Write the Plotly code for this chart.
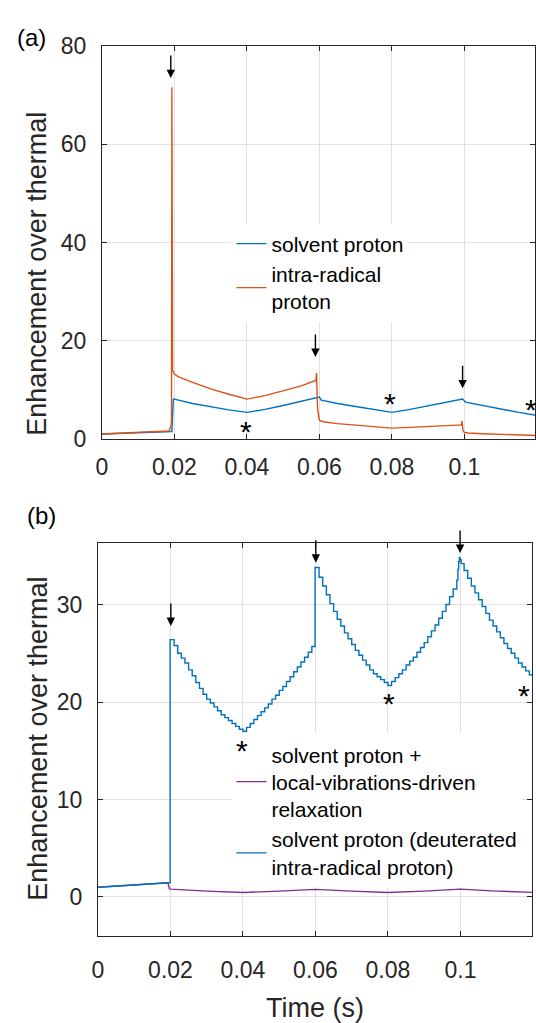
import plotly.graph_objects as go

# ---------------- Panel (a) data ----------------
t_a_solvent = [0, 0.01, 0.0193, 0.0197, 0.0200, 0.025, 0.03, 0.035, 0.04, 0.045, 0.05, 0.055,
               0.0595, 0.0600, 0.0605, 0.065, 0.07, 0.075, 0.08, 0.085, 0.09, 0.095,
               0.0990, 0.0995, 0.1003, 0.105, 0.11, 0.115, 0.12]
y_a_solvent = [1.0, 1.25, 1.5, 8.1, 8.1, 7.2, 6.5, 5.9, 5.4, 6.0, 6.8, 7.6,
               8.4, 8.5, 7.9, 7.2, 6.6, 6.0, 5.4, 6.0, 6.7, 7.4,
               8.0, 8.1, 7.5, 6.8, 6.0, 5.4, 4.8]

t_a_intra = [0, 0.01, 0.0185, 0.019, 0.0192, 0.0193, 0.0195, 0.0200, 0.021, 0.025, 0.03, 0.035,
             0.04, 0.045, 0.05, 0.055, 0.0590, 0.0592, 0.0595, 0.0600, 0.0610, 0.065, 0.07,
             0.075, 0.08, 0.085, 0.09, 0.095, 0.0992, 0.0993, 0.0996, 0.1000, 0.101, 0.105,
             0.11, 0.115, 0.12]
y_a_intra = [1.0, 1.25, 1.6, 2.5, 3.5, 71.6, 14.0, 13.2, 12.7, 11.5, 10.2, 9.1,
             8.1, 8.8, 9.8, 10.8, 11.9, 13.4, 6.0, 3.8, 3.5, 3.1, 2.8,
             2.45, 2.2, 2.35, 2.5, 2.7, 2.85, 3.7, 1.8, 1.3, 1.2, 1.05,
             0.9, 0.8, 0.7]

# ---------------- Panel (b) data ----------------
t_b_local = [0, 0.01, 0.0193, 0.0197, 0.02, 0.03, 0.04, 0.05, 0.0595, 0.0600, 0.07, 0.08,
             0.09, 0.0995, 0.1000, 0.11, 0.12]
y_b_local = [1.0, 1.2, 1.45, 0.85, 0.8, 0.6, 0.45, 0.6, 0.8, 0.78, 0.6, 0.45,
             0.6, 0.85, 0.8, 0.6, 0.47]

t_b_pre = [0, 0.01, 0.0195]
y_b_pre = [1.0, 1.2, 1.45]

t_b_deut = [0.0195, 0.0199,
            0.021, 0.022, 0.023, 0.024, 0.025, 0.026, 0.027, 0.028, 0.029, 0.030,
            0.031, 0.032, 0.033, 0.034, 0.035, 0.036, 0.037, 0.038, 0.039, 0.040,
            0.041, 0.042, 0.043, 0.044, 0.045, 0.046, 0.047, 0.048, 0.049, 0.050,
            0.051, 0.052, 0.053, 0.054, 0.055, 0.056, 0.057, 0.058, 0.059,
            0.0599,
            0.061, 0.062, 0.063, 0.064, 0.065, 0.066, 0.067, 0.068, 0.069, 0.070,
            0.071, 0.072, 0.073, 0.074, 0.075, 0.076, 0.077, 0.078, 0.079, 0.080,
            0.081, 0.082, 0.083, 0.084, 0.085, 0.086, 0.087, 0.088, 0.089, 0.090,
            0.091, 0.092, 0.093, 0.094, 0.095, 0.096, 0.097, 0.098, 0.099,
            0.0993, 0.0995, 0.0997, 0.0999, 0.1002,
            0.101, 0.102, 0.103, 0.104, 0.105, 0.106, 0.107, 0.108, 0.109, 0.110,
            0.111, 0.112, 0.113, 0.114, 0.115, 0.116, 0.117, 0.118, 0.119, 0.120]
y_b_deut = [1.45, 26.4,
            25.8, 25.0, 24.5, 24.0, 23.3, 22.7, 22.0, 21.4, 20.8, 20.3,
            19.9, 19.5, 19.1, 18.7, 18.4, 18.1, 17.8, 17.5, 17.2, 17.0,
            17.4, 17.8, 18.2, 18.6, 19.0, 19.4, 19.8, 20.3, 20.7, 21.2,
            21.6, 22.1, 22.6, 23.1, 23.6, 24.1, 24.6, 25.1, 25.7,
            33.8,
            32.8, 31.9, 31.0, 30.1, 29.3, 28.5, 27.8, 27.1, 26.5, 25.9,
            25.3, 24.8, 24.3, 23.8, 23.3, 22.9, 22.6, 22.3, 22.0, 21.7,
            22.1, 22.5, 22.9, 23.3, 23.8, 24.2, 24.6, 25.1, 25.6, 26.1,
            26.7, 27.3, 27.9, 28.6, 29.3, 30.0, 30.8, 31.6, 32.5,
            33.6, 34.4, 34.8, 34.6, 34.2,
            33.5, 32.7, 31.9, 31.2, 30.5, 29.8, 29.1, 28.4, 27.8, 27.2,
            26.6, 26.0, 25.5, 25.0, 24.5, 24.0, 23.6, 23.2, 22.8, 22.5]

# annotation positions (data coords)
arrows_a = [(0.0190, 73.5), (0.0589, 16.7), (0.0995, 10.3)]
stars_a = [(0.0397, 2.4), (0.0795, 8.0), (0.1183, 6.7)]
arrows_b = [(0.0201, 27.8), (0.0601, 34.3), (0.0999, 35.3)]
stars_b = [(0.0396, 15.6), (0.0803, 20.5), (0.1174, 21.3)]

BLUE = "#0072BD"
ORANGE = "#D95319"
PURPLE = "#7E2F8E"
TXT = "#262626"
FONT = "Liberation Sans, Arial, sans-serif"
W, H = 536, 1023

fig = go.Figure()
fig.add_trace(go.Scatter(x=t_a_solvent, y=y_a_solvent, mode="lines", name="solvent proton",
                         line=dict(color=BLUE, width=1.4), xaxis="x", yaxis="y", legend="legend"))
fig.add_trace(go.Scatter(x=t_a_intra, y=y_a_intra, mode="lines", name="intra-radical<br>proton",
                         line=dict(color=ORANGE, width=1.4), xaxis="x", yaxis="y", legend="legend"))

fig.add_trace(go.Scatter(x=t_b_local, y=y_b_local, mode="lines",
                         name="solvent proton +<br>local-vibrations-driven<br>relaxation",
                         line=dict(color=PURPLE, width=1.4), xaxis="x2", yaxis="y2", legend="legend2"))
fig.add_trace(go.Scatter(x=t_b_pre, y=y_b_pre, mode="lines", showlegend=False,
                         line=dict(color=BLUE, width=1.4),
                         xaxis="x2", yaxis="y2", legend="legend2"))
fig.add_trace(go.Scatter(x=t_b_deut, y=y_b_deut, mode="lines",
                         name="solvent proton (deuterated<br>intra-radical proton)",
                         line=dict(color=BLUE, width=1.4, shape="hv"),
                         xaxis="x2", yaxis="y2", legend="legend2"))

axis_common = dict(showline=True, linecolor=TXT, linewidth=1, mirror="ticks",
                   ticks="inside", ticklen=5, tickcolor=TXT, tickwidth=1,
                   showgrid=True, gridcolor="#e1e1e1", gridwidth=1, zeroline=False,
                   tickfont=dict(family=FONT, size=23, color=TXT))

annotations = []
for (x, y) in arrows_a:
    annotations.append(dict(x=x, y=y, xref="x", yref="y", text="", showarrow=True,
                            ax=0, ay=-24, arrowhead=2, arrowsize=1.2, arrowwidth=1.4,
                            arrowcolor="black"))
for (x, y) in arrows_b:
    annotations.append(dict(x=x, y=y, xref="x2", yref="y2", text="", showarrow=True,
                            ax=0, ay=-24, arrowhead=2, arrowsize=1.2, arrowwidth=1.4,
                            arrowcolor="black"))
for (x, y) in stars_a:
    annotations.append(dict(x=x, y=y, xref="x", yref="y", text="*", showarrow=False,
                            xanchor="center", yanchor="middle",
                            yshift=-4, font=dict(family=FONT, size=30, color="black")))
for (x, y) in stars_b:
    annotations.append(dict(x=x, y=y, xref="x2", yref="y2", text="*", showarrow=False,
                            xanchor="center", yanchor="middle",
                            yshift=-6, font=dict(family=FONT, size=30, color="black")))
annotations.append(dict(x=26 / W, y=1 - 25 / H, xref="paper", yref="paper", text="(a)",
                        xanchor="center", yanchor="middle",
                        showarrow=False, font=dict(family=FONT, size=24, color="black")))
annotations.append(dict(x=36 / W, y=1 - 516 / H, xref="paper", yref="paper", text="(b)",
                        xanchor="center", yanchor="middle",
                        showarrow=False, font=dict(family=FONT, size=24, color="black")))
# y-axis titles
annotations.append(dict(x=32 / W, y=1 - 268 / H, xref="paper", yref="paper",
                        text="Enhancement over thermal", textangle=-90,
                        xanchor="center", yanchor="middle", showarrow=False,
                        font=dict(family=FONT, size=27, color=TXT)))
annotations.append(dict(x=32 / W, y=1 - 745 / H, xref="paper", yref="paper",
                        text="Enhancement over thermal", textangle=-90,
                        xanchor="center", yanchor="middle", showarrow=False,
                        font=dict(family=FONT, size=27, color=TXT)))

fig.update_layout(
    width=W, height=H,
    margin=dict(l=0, r=0, t=0, b=0),
    paper_bgcolor="white", plot_bgcolor="white",
    font=dict(family=FONT, color=TXT),
    xaxis=dict(domain=[97 / W, 535 / W], range=[0, 0.11948], anchor="y",
               tickvals=[0, 0.02, 0.04, 0.06, 0.08, 0.1],
               ticktext=["0", "0.02", "0.04", "0.06", "0.08", "0.1"],
               ticklabelstandoff=8, **axis_common),
    yaxis=dict(domain=[1 - 437 / H, 1 - 34 / H], range=[0, 80], anchor="x",
               tickvals=[0, 20, 40, 60, 80], ticklabelstandoff=10,
               **axis_common),
    xaxis2=dict(domain=[93 / W, 532 / W], range=[0, 0.11975], anchor="y2",
                tickvals=[0, 0.02, 0.04, 0.06, 0.08, 0.1],
                ticktext=["0", "0.02", "0.04", "0.06", "0.08", "0.1"],
                ticklabelstandoff=13,
                title=dict(text="Time (s)", standoff=18,
                           font=dict(family=FONT, size=27, color=TXT)),
                **axis_common),
    yaxis2=dict(domain=[1 - 947 / H, 1 - 544 / H], range=[-4, 36.3], anchor="x2",
                tickvals=[0, 10, 20, 30], ticklabelstandoff=10,
                **axis_common),
    legend=dict(x=228 / W, y=1 - 216 / H, xanchor="left", yanchor="top",
                bgcolor="white", borderwidth=0, tracegroupgap=0,
                font=dict(family=FONT, size=21, color="black")),
    legend2=dict(x=228 / W, y=1 - 740 / H, xanchor="left", yanchor="top",
                 bgcolor="white", borderwidth=0, tracegroupgap=0,
                 font=dict(family=FONT, size=21, color="black")),
    annotations=annotations,
)

fig.write_html("out.html")
